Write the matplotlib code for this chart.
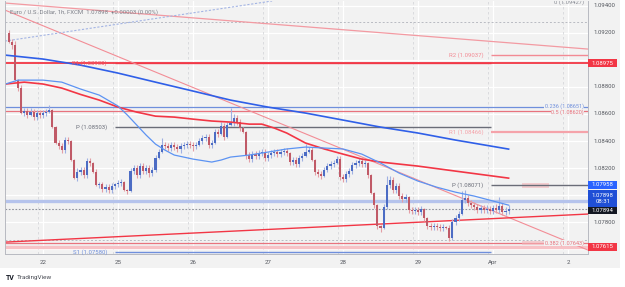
import matplotlib
matplotlib.use("Agg")
import matplotlib.pyplot as plt
from matplotlib.patches import Rectangle
import numpy as np

plt.rcParams['font.family'] = ['Roboto', 'DejaVu Sans']

# ---- data (EUR/USD 1h, bar index 0 = 22 Mar 00:00, weekend removed) ----
first_bar = -11
open0 = 1.09199
closes = [
    1.09133, 1.09111, 1.08851, 1.08792, 1.08607, 1.08621, 1.08592, 1.08614, 1.08577, 1.08607, 1.08592,
    1.08607, 1.08614, 1.08629, 1.08503, 1.08385, 1.08363, 1.08333, 1.08407, 1.08400, 1.08259, 1.08125, 1.08170,
    1.08184, 1.08147, 1.08251, 1.08237, 1.08170, 1.08073, 1.08080, 1.08043, 1.08058, 1.08036, 1.08066, 1.08080,
    1.08088, 1.08095, 1.08036, 1.08029, 1.08177, 1.08199, 1.08147, 1.08214, 1.08177, 1.08199, 1.08162, 1.08184,
    1.08274, 1.08318, 1.08370, 1.08363, 1.08348, 1.08370, 1.08355, 1.08341, 1.08363, 1.08370, 1.08377, 1.08370,
    1.08363, 1.08370, 1.08400, 1.08422, 1.08429, 1.08370, 1.08385, 1.08466, 1.08451, 1.08510, 1.08429, 1.08518,
    1.08533, 1.08570, 1.08540, 1.08496, 1.08466, 1.08296, 1.08266, 1.08303, 1.08288, 1.08311, 1.08318, 1.08274,
    1.08296, 1.08311, 1.08318, 1.08303, 1.08318, 1.08325, 1.08311, 1.08244, 1.08259, 1.08229, 1.08274, 1.08288,
    1.08318, 1.08333, 1.08259, 1.08170, 1.08155, 1.08140, 1.08184, 1.08214, 1.08229, 1.08237, 1.08266, 1.08133,
    1.08118, 1.08155, 1.08177, 1.08222, 1.08237, 1.08251, 1.08229, 1.08237, 1.08147, 1.08014, 1.07925, 1.07769,
    1.07755, 1.07910, 1.08073, 1.08110, 1.08036, 1.08066, 1.07992, 1.07970, 1.07984, 1.07888, 1.07881, 1.07888,
    1.07874, 1.07895, 1.07829, 1.07769, 1.07762, 1.07769, 1.07762, 1.07755, 1.07762, 1.07755, 1.07680, 1.07799,
    1.07829, 1.07859, 1.07962, 1.07977, 1.07940, 1.07925, 1.07910, 1.07888, 1.07903, 1.07888, 1.07895, 1.07881,
    1.07903, 1.07888, 1.07918, 1.07874, 1.07881, 1.07898,
]
# wick lengths in pips
wick_up = [
    2, 2, 3, 1, 2, 2, 2, 3, 2, 2, 2,
    2, 2, 4, 1, 1, 2, 2, 2, 2, 1, 1, 3,
    2, 2, 2, 2, 1, 2, 2, 2, 2, 2, 2, 1,
    2, 2, 1, 1, 2, 2, 2, 2, 2, 2, 2, 2,
    2, 2, 5, 2, 2, 2, 2, 2, 2, 2, 2, 2,
    2, 2, 2, 2, 2, 2, 2, 2, 2, 3, 2, 2,
    11, 3, 2, 2, 1, 1, 2, 2, 2, 2, 2, 2,
    2, 2, 2, 2, 2, 2, 2, 1, 2, 2, 2, 2,
    6, 2, 2, 1, 2, 2, 2, 2, 2, 2, 2, 2,
    2, 2, 2, 2, 2, 2, 2, 2, 1, 1, 1, 1,
    1, 2, 7, 3, 2, 2, 2, 2, 2, 1, 2, 2,
    2, 2, 1, 1, 2, 2, 2, 2, 2, 1, 2, 2,
    2, 2, 7, 6, 2, 2, 2, 2, 2, 2, 3, 2,
    2, 3, 7, 2, 3, 3,
]
wick_dn = [
    1, 3, 1, 2, 1, 2, 2, 1, 2, 2, 2,
    2, 2, 1, 1, 1, 2, 2, 2, 2, 1, 1, 2,
    2, 2, 2, 2, 1, 1, 2, 2, 2, 2, 2, 2,
    2, 2, 1, 2, 1, 2, 2, 2, 2, 2, 3, 2,
    1, 1, 1, 2, 2, 2, 2, 2, 3, 2, 2, 2,
    4, 2, 1, 2, 2, 2, 2, 1, 2, 1, 2, 1,
    1, 2, 2, 2, 1, 3, 2, 2, 2, 2, 2, 2,
    2, 2, 2, 2, 2, 2, 2, 2, 2, 2, 2, 2,
    1, 1, 1, 2, 2, 2, 1, 1, 2, 2, 1, 2,
    2, 2, 2, 2, 2, 2, 2, 2, 2, 1, 2, 2,
    3, 1, 1, 2, 2, 2, 2, 2, 2, 2, 2, 2,
    2, 2, 2, 2, 2, 2, 2, 2, 2, 1, 2, 1,
    2, 2, 1, 2, 2, 2, 2, 2, 2, 2, 2, 2,
    2, 2, 2, 2, 2, 2,
]

day_ticks = [0, 24, 48, 72, 96, 120, 144, 168]
day_labels = ['22', '25', '26', '27', '28', '29', 'Apr', '2']

# moving averages (sampled from the chart)
ma_slow_x = [-12, 0, 12, 24, 36, 48, 60, 72, 84, 96, 108, 120, 132, 149]
ma_slow_y = [1.09036, 1.09007, 1.08962, 1.08903, 1.08836, 1.08770, 1.08703, 1.08651,
             1.08607, 1.08555, 1.08503, 1.08459, 1.08407, 1.08340]
ma_mid_x = [-12, -6, 0, 6, 12, 18, 24, 30, 36, 42, 48, 54, 60, 66, 70, 74, 78, 84, 90,
            96, 102, 108, 114, 120, 132, 149]
ma_mid_y = [1.08822, 1.08836, 1.08822, 1.08792, 1.08745, 1.08703, 1.08651, 1.08614, 1.08584,
            1.08577, 1.08562, 1.08548, 1.08540, 1.08525, 1.08525, 1.08496, 1.08459, 1.08385,
            1.08341, 1.08303, 1.08266, 1.08244, 1.08229, 1.08214, 1.08177, 1.08125]
ma_fast_x = [-12, -8, 0, 6, 12, 18, 24, 27, 30, 33, 36, 39, 42, 48, 54, 57, 60, 66, 72, 78,
             84, 90, 96, 102, 108, 114, 120, 126, 132, 138, 149]
ma_fast_y = [1.08822, 1.08851, 1.08851, 1.08836, 1.08785, 1.08740, 1.08659, 1.08592, 1.08518,
             1.08444, 1.08377, 1.08333, 1.08296, 1.08266, 1.08244, 1.08259, 1.08281, 1.08296,
             1.08318, 1.08341, 1.08355, 1.08348, 1.08341, 1.08303, 1.08237, 1.08162, 1.08103,
             1.08058, 1.08021, 1.07992, 1.07925]

# trend lines: two anchor points each (bar, price)
trend_top = [(-12.2, 1.09422), (174.4, 1.09081)]
trend_steep = [(-12.2, 1.09370), (174.4, 1.07592)]
trend_blue = [(-12.2, 1.09140), (71.0, 1.09429)]
trend_low = [(-12.2, 1.07651), (174.4, 1.07859)]

# weekly pivots: (label, price, colour)
piv_old_span = (23, 143.4)
piv_old = [('R1 (1.08980)', 1.08980, '#ef5361'), ('P (1.08503)', 1.08503, '#6a6d78'),
           ('S1 (1.07580)', 1.07580, '#6f8fdc')]
piv_new_span = (143.4, 176)
piv_new = [('R2 (1.09037)', 1.09037, '#f28a94'), ('R1 (1.08466)', 1.08466, '#f5a3aa'),
           ('P (1.08071)', 1.08071, '#6a6d78')]

# fib levels: (label, price, colour, label nudge in points)
fib_levels = [('0.236 (1.08651)', 1.08651, '#6f8fdc', 0.6), ('0.5 (1.08620)', 1.08620, '#e8737e', -0.8),
              ('0.382 (1.07643)', 1.07643, '#e8737e', 0)]
fib_top = ('0 (1.09427)', 1.09427)

last_price = 1.07898
yticks = [1.094, 1.092, 1.088, 1.086, 1.084, 1.082, 1.078]

# ---- figure ----
W, H = 625, 287
fig = plt.figure(figsize=(W / 100, H / 100), dpi=100)
fig.patch.set_facecolor('white')
bg = '#f2f2f2'
fig.add_artist(Rectangle((0, 1 - 268 / H), 620 / W, 268 / H, transform=fig.transFigure,
                         facecolor=bg, edgecolor='none', zorder=-10))

ax = fig.add_axes([5 / W, 1 - 254 / H, 583 / W, 253 / H])
ax.set_facecolor(bg)
ax.set_xlim(-12.16, 174.4)
ax.set_ylim(1.07563, 1.09437)

# grid
for t in np.arange(1.076, 1.0945, 0.002):
    ax.axhline(t, color='white', lw=0.9, zorder=0.5)
for d in day_ticks:
    ax.axvline(d, color='white', lw=0.9, zorder=0.5)
    ax.axvline(d - 1.5, color='#d6d7db', lw=0.6, ls=(0, (3, 3)), zorder=0.6)

# horizontal lines
ax.axhline(1.09281, color='#b9bbc2', lw=0.7, ls=(0, (2, 2)), zorder=1)
ax.axhline(1.07666, color='#b9bbc2', lw=0.7, ls=(0, (2, 2)), zorder=1)
ax.axhline(1.08975, color='#f23645', lw=1.3, zorder=1.5)
ax.axhline(1.07958, color='#b5c3ec', lw=2.4, zorder=1)
ax.axhline(1.07615, color='#f7c2c6', lw=2.4, zorder=1)
ax.axhline(last_price, color='#8f929b', lw=0.8, ls=(0, (1.5, 1.5)), zorder=1)

# fib levels with labels on the right
for lab, p, col, dy in fib_levels:
    ax.axhline(p, color=col, lw=0.9, zorder=1.2)
    ax.annotate(lab, (173.0, p), xytext=(0, dy), textcoords='offset points',
                color=col, fontsize=4.0, ha='right', va='center', zorder=3,
                bbox=dict(boxstyle='square,pad=0.05', fc=bg, ec='none'))
ax.text(173.0, fib_top[1], fib_top[0], color='#8a8d96', fontsize=4.2, ha='right',
        va='center', zorder=3, clip_on=True)

# pink highlight boxes
for p in (1.08071, 1.07643):
    ax.add_patch(Rectangle((153.2, p - 0.00017), 8.8, 0.00034,
                           fc='#f5b5ba', ec='none', alpha=0.6, zorder=1.3))

# pivots
for span, levels in ((piv_old_span, piv_old), (piv_new_span, piv_new)):
    for lab, p, col in levels:
        lw = 1.6 if lab.startswith('R1 (1.084') else 1.0
        ax.hlines(p, span[0], span[1], color=col, lw=lw, zorder=1.4)
        ax.text(span[0] - 2.5, p, lab, color=col, fontsize=4.3, ha='right', va='center', zorder=3)

# trend lines
ax.axline(*trend_top, color='#f39aa2', lw=0.9, zorder=1.5)
ax.axline(*trend_steep, color='#f28d96', lw=0.8, zorder=1.5)
ax.axline(*trend_blue, color='#a3b4e4', lw=0.8, ls=(0, (2, 1.5)), zorder=1.5)
ax.axline(*trend_low, color='#f23645', lw=1.0, zorder=1.5)

# moving averages
ax.plot(ma_slow_x, ma_slow_y, color='#2f5fe8', lw=1.2, zorder=2.5)
ax.plot(ma_mid_x, ma_mid_y, color='#f23645', lw=1.2, zorder=2.5)
ax.plot(ma_fast_x, ma_fast_y, color='#5c93f2', lw=0.9, zorder=2.5)

# candles
n = len(closes)
idx = np.arange(first_bar, first_bar + n)
c = np.array(closes)
o = np.concatenate([[open0], c[:-1]])
hi = np.maximum(o, c) + np.array(wick_up) * 1e-4
lo = np.minimum(o, c) - np.array(wick_dn) * 1e-4
up = c >= o
ax.vlines(idx[up], lo[up], hi[up], color='#9fb0e2', lw=0.8, zorder=2)
ax.vlines(idx[~up], lo[~up], hi[~up], color='#e39ea5', lw=0.8, zorder=2)
body_h = np.maximum(np.abs(c - o), 0.00003)
ax.bar(idx[up], body_h[up], bottom=np.minimum(o, c)[up], width=0.7, color='#4c6cc4', zorder=2.2)
ax.bar(idx[~up], body_h[~up], bottom=np.minimum(o, c)[~up], width=0.7, color='#c05a67', zorder=2.2)

# axes styling
ax.spines['top'].set_visible(False)
for s in ('left', 'right', 'bottom'):
    ax.spines[s].set_color('#b8bac1')
    ax.spines[s].set_linewidth(0.7)
ax.set_yticks([])
ax.set_xticks(day_ticks)
ax.set_xticklabels(day_labels)
ax.tick_params(axis='x', length=0, pad=4.0, labelsize=4.4, labelcolor='#55585f')

# price scale
pax = fig.add_axes([588 / W, 1 - 254 / H, 32 / W, 253 / H])
pax.set_xlim(0, 1)
pax.set_ylim(ax.get_ylim())
pax.axis('off')
for t in yticks:
    pax.text(0.52, t, f'{t:.5f}', fontsize=4.3, color='#55585f', ha='center', va='center')

px = 1 / 13500.0  # price per pixel
def price_box(p, txt, col, off_px=0, h_px=8, tcol='white'):
    yc = p + off_px * px
    pax.add_patch(Rectangle((0.0, yc - h_px / 2 * px), 0.92, h_px * px, fc=col, ec='none', zorder=3))
    pax.text(0.46, yc, txt, fontsize=4.3, color=tcol, ha='center', va='center', zorder=4,
             linespacing=1.3)

price_box(1.08975, '1.08975', '#f23645')
price_box(1.07958, '1.07958', '#2962ff', off_px=16)
price_box(last_price, '1.07898\n08:31', '#1f4fd6', off_px=10, h_px=18)
price_box(1.07894, '1.07894', '#131722', off_px=-1, h_px=7)
price_box(1.07615, '1.07615', '#f23645')

# header and logo
fig.text(10 / W, 1 - 12 / H, 'Euro / U.S. Dollar, 1h, FXCM  1.07898  +0.00003 (0.00%)',
         fontsize=4.3, color='#7d8089', va='center', ha='left')
fig.text(6 / W, 1 - 278 / H, 'TV', fontsize=5, color='#131722', fontweight='bold', va='center')
fig.text(17 / W, 1 - 278 / H, 'TradingView', fontsize=4.6, color='#4a4d55', va='center')

fig.savefig('out.png', dpi=100, facecolor='white')
